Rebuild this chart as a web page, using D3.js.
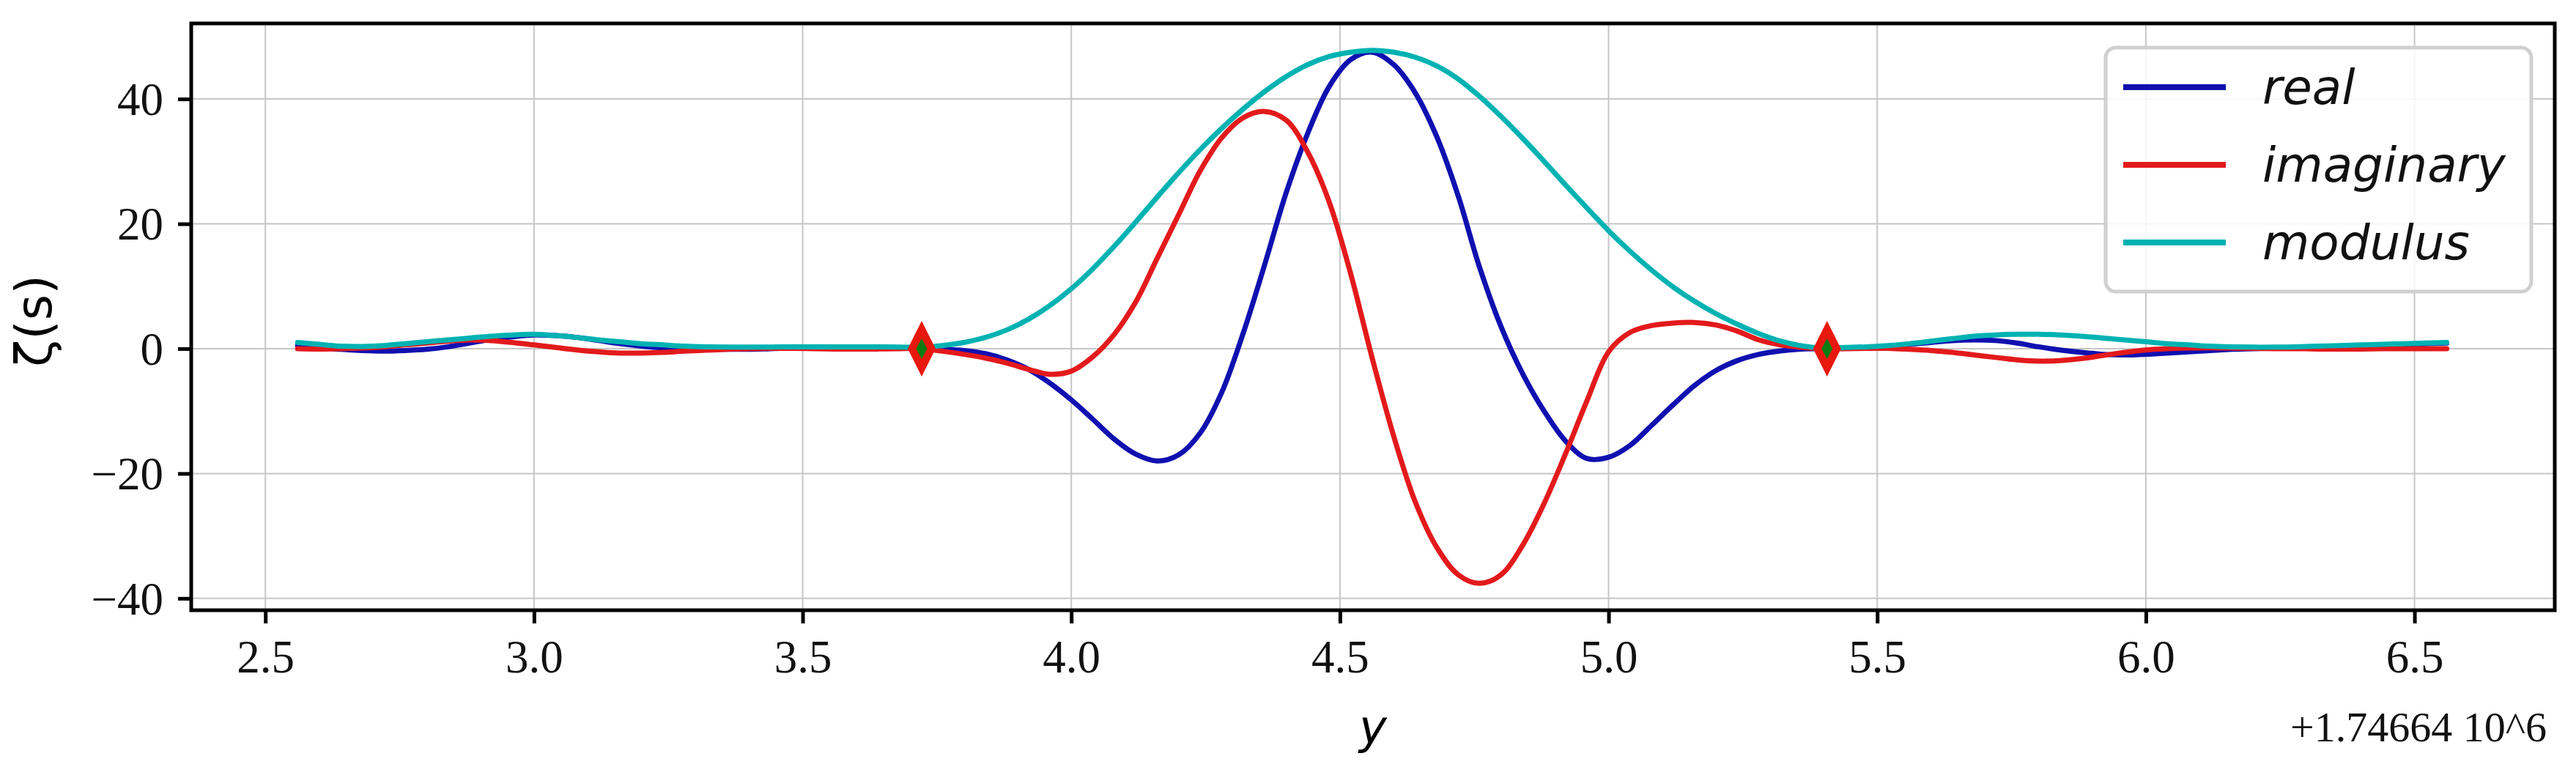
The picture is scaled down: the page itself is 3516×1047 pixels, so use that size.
<!DOCTYPE html>
<html><head><meta charset="utf-8">
<script src="https://cdn.jsdelivr.net/npm/d3@7"></script>
<style>html,body{margin:0;padding:0;background:#fff;} svg{display:block;}</style>
</head><body>
<svg id="chart" width="3516" height="1047"></svg>
<script>
// ---- data (y offset: +1.74664e6) ----
const xs = [2.56,2.60,2.64,2.68,2.72,2.76,2.80,2.84,2.88,2.92,
  2.96,3.00,3.04,3.08,3.12,3.16,3.20,3.24,3.28,3.32,
  3.36,3.40,3.44,3.48,3.52,3.56,3.60,3.64,3.68,3.72,
  3.76,3.80,3.84,3.88,3.92,3.96,4.00,4.04,4.08,4.12,
  4.16,4.20,4.24,4.28,4.32,4.36,4.40,4.44,4.48,4.52,
  4.56,4.60,4.64,4.68,4.72,4.76,4.80,4.84,4.88,4.92,
  4.96,5.00,5.04,5.08,5.12,5.16,5.20,5.24,5.28,5.32,
  5.36,5.40,5.44,5.48,5.52,5.56,5.60,5.64,5.68,5.72,
  5.76,5.80,5.84,5.88,5.92,5.96,6.00,6.04,6.08,6.12,
  6.16,6.20,6.24,6.28,6.32,6.36,6.40,6.44,6.48,6.52,
  6.56];
const realVals = [0.5,0.2,-0.1,-0.3,-0.4,-0.3,-0.1,0.3,0.9,1.5,
  1.9,2.2,2.1,1.8,1.3,0.8,0.4,0.1,-0.05,-0.1,
  -0.1,-0.1,0.0,0.1,0.2,0.25,0.25,0.2,0.1,0.0,
  -0.1,-0.3,-0.8,-1.8,-3.3,-5.5,-8.2,-11.3,-14.5,-16.9,
  -18.0,-17.0,-13.5,-7.0,2.5,13.5,25.0,34.5,42.0,46.3,
  47.5,45.5,41.0,34.0,24.5,13.0,3.5,-4.0,-10.0,-14.8,
  -17.6,-17.4,-15.5,-12.3,-9.0,-5.9,-3.5,-1.9,-0.9,-0.35,
  -0.05,0.0,0.1,0.2,0.4,0.7,1.0,1.3,1.4,1.3,
  0.9,0.3,-0.2,-0.6,-0.9,-1.0,-0.9,-0.7,-0.5,-0.3,
  -0.1,0.0,0.1,0.2,0.3,0.4,0.5,0.6,0.7,0.8,
  0.9];
const imagVals = [0.0,-0.05,0.0,0.1,0.3,0.6,0.9,1.2,1.4,1.3,
  1.0,0.6,0.2,-0.2,-0.5,-0.7,-0.7,-0.6,-0.4,-0.25,
  -0.1,0.0,0.05,0.05,0.0,-0.05,-0.05,-0.05,0.0,0.0,
  -0.4,-0.9,-1.5,-2.3,-3.3,-4.1,-3.6,-1.3,2.3,7.5,
  14.5,21.5,28.5,33.8,37.0,38.0,36.6,31.5,23.5,12.0,
  -1.5,-14.0,-24.5,-31.8,-36.2,-37.6,-36.2,-31.5,-24.8,-16.8,
  -8.3,-0.5,2.6,3.7,4.1,4.2,3.8,2.8,1.4,0.6,
  0.2,0.0,0.0,0.05,0.05,-0.1,-0.3,-0.6,-1.0,-1.4,
  -1.8,-2.0,-1.9,-1.6,-1.1,-0.6,-0.2,0.0,0.1,0.15,
  0.1,0.05,0.0,0.0,-0.05,-0.05,-0.05,0.0,0.0,0.0,
  0.0];
const modVals = [1.0,0.7,0.4,0.35,0.5,0.8,1.1,1.4,1.7,2.0,
  2.2,2.3,2.1,1.8,1.4,1.1,0.8,0.6,0.4,0.3,
  0.25,0.25,0.25,0.3,0.3,0.3,0.3,0.3,0.25,0.25,
  0.5,1.0,1.8,3.0,4.7,6.9,9.6,12.8,16.4,20.3,
  24.3,28.2,31.9,35.3,38.4,41.2,43.6,45.5,46.8,47.5,
  47.8,47.5,46.7,45.3,43.2,40.4,37.2,33.7,30.0,26.2,
  22.5,18.9,15.6,12.6,9.9,7.6,5.6,3.9,2.4,1.2,
  0.45,0.1,0.2,0.3,0.5,0.8,1.2,1.6,2.0,2.2,
  2.3,2.3,2.2,2.0,1.7,1.4,1.1,0.8,0.6,0.4,
  0.3,0.25,0.25,0.3,0.4,0.5,0.6,0.7,0.8,0.9,
  1.0];
const zeroXs = [3.7215, 5.4066];
const zeroYs = [0, 0];
const xTicks = [2.5, 3.0, 3.5, 4.0, 4.5, 5.0, 5.5, 6.0, 6.5];
const yTicks = [-40, -20, 0, 20, 40];
const seriesNames = ["real", "imaginary", "modulus"];
const seriesColors = ["#1010b0", "#e31a1c", "#00b2b2"];
const offsetText = "+1.74664 10^6";
const xLabel = "y";
const yLabel = "ζ(s)";

// ---- layout ----
const svg = d3.select("#chart");
const L = 261, R = 3487, T = 32, B = 833;
const x = d3.scaleLinear().domain([2.362, 6.761]).range([L, R]);
const y = d3.scaleLinear().domain([-41.9, 52.1]).range([B, T]);
const serif = "'Liberation Serif','Times New Roman',serif";
const sans = "'DejaVu Sans',sans-serif";

// grid
const grid = svg.append("g");
grid.selectAll("line.gx").data(xTicks).join("line")
  .attr("x1", d => x(d)).attr("x2", d => x(d)).attr("y1", T).attr("y2", B)
  .attr("stroke", "#c6c6c6").attr("stroke-width", 2);
grid.selectAll("line.gy").data(yTicks).join("line")
  .attr("y1", d => y(d)).attr("y2", d => y(d)).attr("x1", L).attr("x2", R)
  .attr("stroke", "#c6c6c6").attr("stroke-width", 2);

// axes
const fmtX = d3.format(".1f");
const xAxis = svg.append("g").attr("transform", `translate(0,${B})`)
  .call(d3.axisBottom(x).tickValues(xTicks).tickFormat(fmtX).tickSize(18).tickPadding(22));
const yAxis = svg.append("g").attr("transform", `translate(${L},0)`)
  .call(d3.axisLeft(y).tickValues(yTicks).tickFormat(d3.format("d")).tickSize(18).tickPadding(20));
[xAxis, yAxis].forEach(a => {
  a.select(".domain").remove();
  a.selectAll(".tick line").attr("stroke", "#000").attr("stroke-width", 5);
  a.selectAll(".tick text").attr("font-family", serif).attr("font-size", 63).attr("fill", "#111");
});
yAxis.selectAll(".tick text").attr("dy", "0.34em");

// lines
const seriesVals = [realVals, imagVals, modVals];
const line = d3.line().curve(d3.curveCatmullRom.alpha(0.5));
const plot = svg.append("g");
seriesVals.forEach((vals, i) => {
  plot.append("path")
    .attr("d", line(xs.map((xv, k) => [x(xv), y(vals[k])])))
    .attr("fill", "none").attr("stroke", seriesColors[i])
    .attr("stroke-width", 7).attr("stroke-linejoin", "round").attr("stroke-linecap", "round");
});

// zero markers (thin diamonds)
const mk = svg.append("g");
zeroXs.forEach((zx, i) => {
  const g = mk.append("g").attr("transform", `translate(${x(zx)},${y(zeroYs[i])})`);
  g.append("path").attr("d", "M0,-38 L19,0 L0,38 L-19,0 Z").attr("fill", "#e8180e");
  g.append("path").attr("d", "M0,-14 L7.5,0 L0,14 L-7.5,0 Z").attr("fill", "#0a7d12");
});

// frame
svg.append("rect").attr("x", L).attr("y", T).attr("width", R - L).attr("height", B - T)
  .attr("fill", "none").attr("stroke", "#000").attr("stroke-width", 5);

// legend
const lg = svg.append("g");
lg.append("rect").attr("x", 2874).attr("y", 65).attr("width", 581).attr("height", 333)
  .attr("rx", 14).attr("fill", "#fff").attr("fill-opacity", 0.85)
  .attr("stroke", "#d0d0d0").attr("stroke-width", 5);
seriesNames.forEach((nm, i) => {
  const ly = 119 + i * 106;
  lg.append("line").attr("x1", 2898).attr("x2", 3038).attr("y1", ly).attr("y2", ly)
    .attr("stroke", seriesColors[i]).attr("stroke-width", 8);
  lg.append("text").attr("x", 3088).attr("y", ly + 23).text(nm)
    .attr("font-family", sans).attr("font-style", "italic").attr("font-size", 66).attr("fill", "#111");
});

// labels
svg.append("text").attr("x", (L + R) / 2).attr("y", 1015).attr("text-anchor", "middle")
  .attr("font-family", sans).attr("font-style", "italic").attr("font-size", 64).text(xLabel);
svg.append("text").attr("transform", `translate(70,438) rotate(-90)`)
  .attr("text-anchor", "middle").attr("font-family", sans).attr("font-size", 68).text(yLabel);
svg.append("text").attr("x", 3476).attr("y", 1012).attr("text-anchor", "end")
  .attr("font-family", serif).attr("font-size", 58).attr("fill", "#111").text(offsetText);
</script>
</body></html>
